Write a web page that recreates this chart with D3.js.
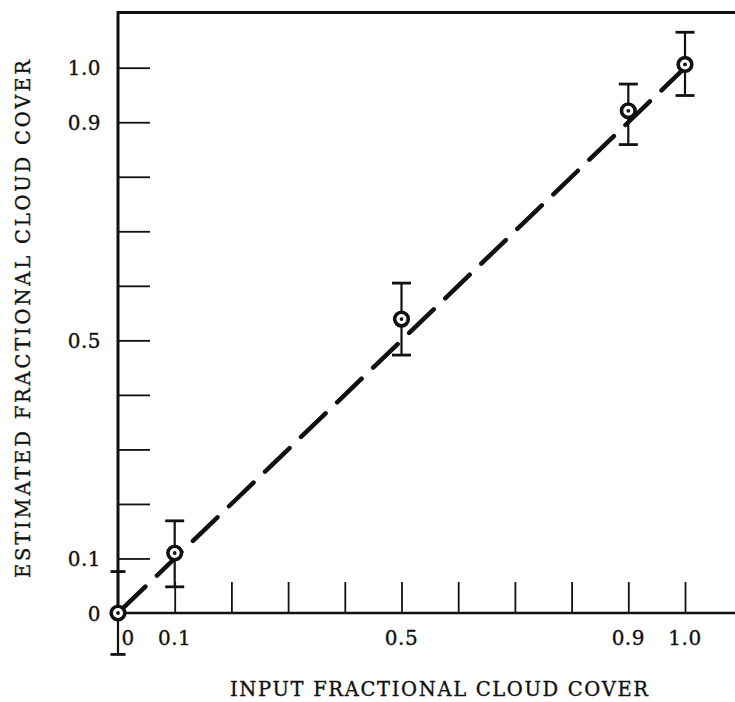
<!DOCTYPE html>
<html>
<head>
<meta charset="utf-8">
<script src="https://cdn.jsdelivr.net/npm/d3@7"></script>
<style>
  html, body { margin: 0; padding: 0; background: #fff; }
  svg { display: block; }
  text { font-family: "DejaVu Serif", serif; fill: #111; stroke: #111; stroke-width: 0.35; }
</style>
</head>
<body>
<script>
// Input vs. estimated fractional cloud cover
const inputCover    = [0, 0.1, 0.5, 0.9, 1.0];
const estimatedMean = [0, 0.11, 0.539, 0.921, 1.006];
const estimatedLow  = [-0.076, 0.048, 0.473, 0.859, 0.949];
const estimatedHigh = [0.076, 0.169, 0.605, 0.970, 1.065];

const xTickValues = [0.1, 0.2, 0.3, 0.4, 0.5, 0.6, 0.7, 0.8, 0.9, 1.0];
const yTickValues = [0.1, 0.2, 0.3, 0.4, 0.5, 0.6, 0.7, 0.8, 0.9, 1.0];
const xTickLabels = [{v: 0, t: "0"}, {v: 0.1, t: "0.1"}, {v: 0.5, t: "0.5"}, {v: 0.9, t: "0.9"}, {v: 1.0, t: "1.0"}];
const yTickLabels = [{v: 0, t: "0"}, {v: 0.1, t: "0.1"}, {v: 0.5, t: "0.5"}, {v: 0.9, t: "0.9"}, {v: 1.0, t: "1.0"}];
const fitLine = [[0, 0], [1, 1]];

const W = 735, H = 702;
const x = d3.scaleLinear().domain([0, 1]).range([118, 685]);
const y = d3.scaleLinear().domain([0, 1]).range([613, 67.7]);

const svg = d3.select("body").append("svg").attr("width", W).attr("height", H);

// frame: top border and left / bottom axis lines
svg.append("line").attr("x1", 117).attr("x2", W).attr("y1", 12.5).attr("y2", 12.5)
  .attr("stroke", "#111").attr("stroke-width", 3);
svg.append("line").attr("x1", 118).attr("x2", 118).attr("y1", 11).attr("y2", y(0))
  .attr("stroke", "#111").attr("stroke-width", 3);
svg.append("line").attr("x1", 117).attr("x2", W).attr("y1", y(0)).attr("y2", y(0))
  .attr("stroke", "#111").attr("stroke-width", 2.5);

// inward ticks
const xAxis = d3.axisBottom(x).tickValues(xTickValues).tickSizeInner(-31).tickSizeOuter(0).tickFormat("");
const gx = svg.append("g").attr("transform", `translate(0,${y(0)})`).call(xAxis);
gx.select(".domain").remove();
gx.selectAll(".tick line").attr("stroke", "#111").attr("stroke-width", 1.8);

const yAxis = d3.axisLeft(y).tickValues(yTickValues).tickSizeInner(-32).tickSizeOuter(0).tickFormat("");
const gy = svg.append("g").attr("transform", `translate(118,0)`).call(yAxis);
gy.select(".domain").remove();
gy.selectAll(".tick line").attr("stroke", "#111").attr("stroke-width", 1.8);

// tick labels
svg.selectAll(".xlab").data(xTickLabels).enter().append("text")
  .attr("class", "xlab")
  .attr("x", d => d.v === 0 ? x(d.v) + 10 : x(d.v))
  .attr("y", 645)
  .attr("text-anchor", "middle")
  .attr("font-size", 20)
  .attr("letter-spacing", 0.5)
  .text(d => d.t);

svg.selectAll(".ylab").data(yTickLabels).enter().append("text")
  .attr("class", "ylab")
  .attr("x", 101)
  .attr("y", d => y(d.v) + 7.5)
  .attr("text-anchor", "end")
  .attr("font-size", 20)
  .attr("letter-spacing", 0.5)
  .text(d => d.t);

// axis titles
svg.append("text")
  .attr("x", 439).attr("y", 696)
  .attr("text-anchor", "middle")
  .attr("font-size", 19.5)
  .attr("textLength", 418).attr("lengthAdjust", "spacing")
  .text("INPUT FRACTIONAL CLOUD COVER");

svg.append("text")
  .attr("transform", "translate(30,319) rotate(-90)")
  .attr("text-anchor", "middle")
  .attr("font-size", 19.5)
  .attr("textLength", 518).attr("lengthAdjust", "spacing")
  .text("ESTIMATED FRACTIONAL CLOUD COVER");

// dashed reference line y = x
svg.append("path")
  .datum(fitLine)
  .attr("d", d3.line().x(d => x(d[0])).y(d => y(d[1])))
  .attr("fill", "none")
  .attr("stroke", "#111")
  .attr("stroke-width", 4.5)
  .attr("stroke-linecap", "round")
  .attr("stroke-dasharray", "34,16")
  .attr("stroke-dashoffset", -4);

// error bars
const pts = inputCover.map((v, i) => ({x: v, m: estimatedMean[i], lo: estimatedLow[i], hi: estimatedHigh[i]}));
const eb = svg.append("g").attr("stroke", "#111");
pts.forEach(p => {
  const cx = x(p.x);
  const hw = p.x === 0 ? 7.5 : 9.5;
  eb.append("line").attr("x1", cx).attr("x2", cx).attr("y1", y(p.hi)).attr("y2", y(p.lo)).attr("stroke-width", 2.2);
  eb.append("line").attr("x1", cx - hw).attr("x2", cx + hw).attr("y1", y(p.hi)).attr("y2", y(p.hi)).attr("stroke-width", 2.8);
  eb.append("line").attr("x1", cx - hw).attr("x2", cx + hw).attr("y1", y(p.lo)).attr("y2", y(p.lo)).attr("stroke-width", 2.8);
});

// markers: ring with centre dot
const mk = svg.selectAll(".pt").data(pts).enter().append("g").attr("class", "pt")
  .attr("transform", d => `translate(${x(d.x)},${y(d.m)})`);
mk.append("circle").attr("r", 6.8).attr("fill", "#fff").attr("stroke", "#111").attr("stroke-width", 3.6);
mk.append("circle").attr("r", 1.9).attr("fill", "#111");
</script>
</body>
</html>
